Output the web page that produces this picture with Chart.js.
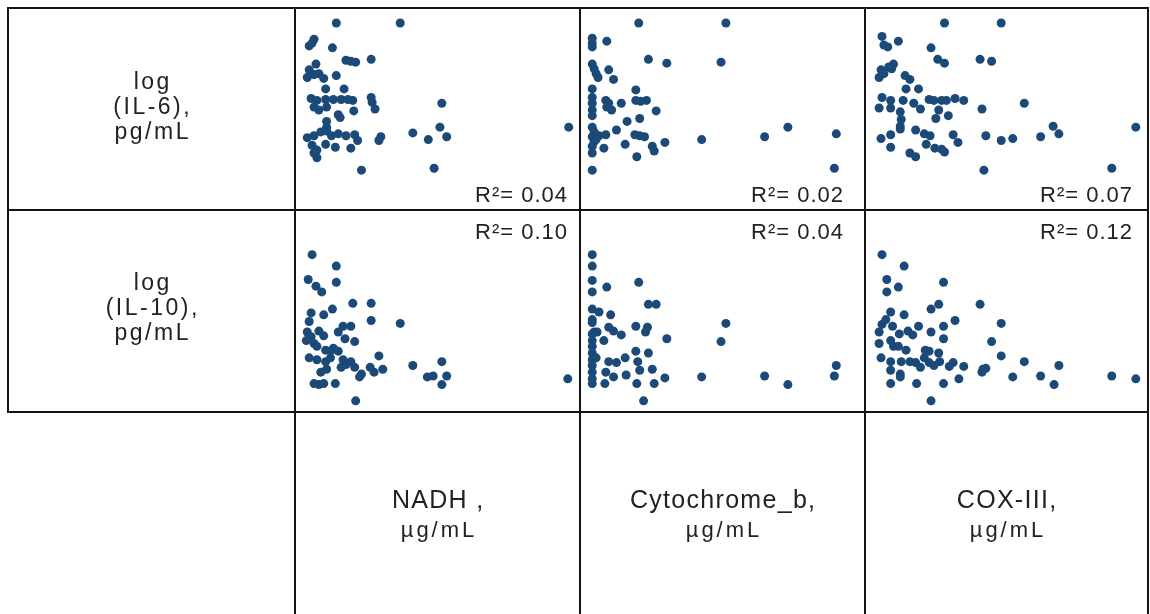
<!DOCTYPE html>
<html>
<head>
<meta charset="utf-8">
<script src="https://cdn.jsdelivr.net/npm/chart.js@4"></script>
<style>
body{margin:0;background:#fff;}
#wrap{position:relative;width:1150px;height:614px;overflow:hidden;font-family:"Liberation Sans",Arial,sans-serif;color:#222;}
.panel{position:absolute;}
.ln{position:absolute;background:#141414;z-index:5;}
.txt{position:absolute;white-space:nowrap;line-height:1;z-index:6;}
</style>
</head>
<body>
<div id="wrap"></div>
<script>
// valores (unidades relativas, sin ejes)
const nadhIL6=[[38,191],[104,191],[15,174],[10,167],[13,170],[34,165],[48,152],[53,151],[58,150],[74,153],[17,148],[10,142],[8,134],[20,138],[25,133],[15,137],[38,136],[27,122],[46,122],[12,112],[18,110],[27,111],[35,111],[43,111],[50,111],[55,110],[74,113],[75,108],[78,101],[15,103],[20,100],[28,103],[56,99],[40,95],[42,92],[28,88],[147,107],[145,82],[278,82],[117,76],[84,72],[82,68],[133,69],[152,72],[8,71],[15,73],[22,77],[28,78],[33,73],[40,75],[48,73],[57,74],[60,68],[28,82],[13,63],[18,58],[27,64],[37,61],[15,55],[18,50],[53,60],[64,37],[139,39]]
const cytbIL6=[[56,191],[146,191],[8,175],[8,170],[8,166],[23,172],[66,153],[85,149],[141,150],[8,148],[10,143],[12,138],[14,134],[25,142],[30,132],[8,122],[53,121],[8,113],[8,107],[8,100],[8,94],[22,110],[23,103],[28,100],[25,107],[38,107],[53,110],[64,110],[58,109],[74,99],[44,88],[57,91],[33,79],[8,82],[10,77],[8,72],[10,67],[8,62],[8,55],[15,73],[22,74],[20,60],[42,64],[52,74],[57,73],[62,72],[70,62],[72,57],[83,66],[54,51],[121,69],[186,72],[210,82],[260,75],[258,39],[8,37],[12,69]]
const coxIL6=[[78,191],[137,191],[13,177],[30,172],[15,168],[19,166],[64,165],[71,153],[78,149],[115,153],[127,151],[25,148],[20,145],[12,142],[15,138],[10,134],[23,143],[37,136],[42,132],[38,122],[51,122],[13,113],[22,110],[35,110],[62,111],[67,110],[75,110],[80,110],[89,112],[98,110],[10,102],[22,102],[32,98],[33,90],[32,83],[46,107],[53,101],[72,100],[69,91],[82,94],[117,101],[161,107],[191,83],[197,75],[277,82],[12,70],[22,74],[32,80],[48,79],[57,75],[63,73],[59,64],[87,74],[92,66],[22,61],[42,55],[48,51],[68,60],[75,59],[78,56],[121,73],[137,68],[149,70],[178,72],[119,37],[252,39]]
const nadhIL10=[[13,160],[38,148],[38,131],[9,134],[17,127],[23,121],[55,109],[74,109],[74,91],[104,88],[34,103],[25,97],[12,99],[10,90],[45,85],[53,85],[40,79],[8,79],[12,74],[7,70],[15,67],[20,80],[25,75],[18,64],[27,60],[32,59],[47,72],[57,69],[35,62],[40,59],[10,52],[18,50],[27,48],[32,52],[45,50],[48,45],[53,48],[57,42],[43,42],[22,37],[28,40],[15,25],[20,24],[25,25],[37,25],[82,54],[73,42],[77,37],[86,40],[62,32],[64,35],[58,7],[117,44],[147,48],[132,32],[138,33],[152,33],[147,24],[277,30]]
const cytbIL10=[[8,160],[8,148],[8,133],[8,121],[23,126],[56,131],[66,108],[74,108],[8,103],[15,100],[27,97],[8,92],[8,89],[25,84],[30,80],[38,76],[53,85],[65,84],[63,79],[85,72],[146,88],[141,69],[8,77],[10,79],[8,70],[8,64],[8,57],[8,50],[8,44],[8,37],[8,30],[8,25],[13,79],[20,70],[12,52],[25,48],[33,47],[42,52],[22,37],[30,32],[53,59],[66,57],[55,48],[57,39],[70,40],[43,34],[21,25],[54,25],[72,25],[83,31],[61,7],[121,32],[186,33],[210,24],[260,44],[258,33]]
const coxIL10=[[13,160],[36,148],[18,134],[18,121],[30,126],[77,131],[72,108],[64,103],[115,108],[22,100],[36,97],[89,91],[137,88],[17,92],[13,87],[10,79],[10,67],[24,85],[31,77],[40,80],[45,76],[51,85],[64,79],[77,85],[77,72],[127,69],[22,70],[25,64],[30,64],[38,60],[12,52],[22,48],[33,48],[42,48],[48,47],[53,42],[58,60],[62,59],[57,52],[62,47],[67,44],[72,57],[73,48],[22,39],[32,35],[32,32],[22,25],[49,25],[77,25],[83,43],[87,47],[98,43],[93,30],[118,40],[117,37],[121,41],[137,54],[161,48],[149,32],[178,33],[197,44],[192,24],[252,33],[277,30],[64,7]]

const r2IL6=['0.04','0.02','0.07']
const r2IL10=['0.10','0.04','0.12']
const filas=[['log','(IL-6),','pg/mL'],['log','(IL-10),','pg/mL']]
const columnas=[['NADH ,','µg/mL'],['Cytochrome_b,','µg/mL'],['COX-III,','µg/mL']]

const color='#1b4a78'
const colX=[8,295,580,865,1148]
const rowY=[8,210,412,614]
const wrap=document.getElementById('wrap')

function linea(x,y,w,h){
    const d=document.createElement('div')
    d.className='ln'
    d.style.left=x+'px';d.style.top=y+'px';d.style.width=w+'px';d.style.height=h+'px'
    wrap.appendChild(d)
}

// texto centrado (o a la derecha) a partir de su linea base
function texto(t,x0,x1,base,size,ls,align){
    const d=document.createElement('div')
    d.className='txt'
    d.textContent=t
    d.style.fontSize=size+'px'
    d.style.letterSpacing=ls+'px'
    d.style.top=(base-0.8465*size)+'px'
    d.style.left=x0+'px'
    d.style.width=(x1-x0+ls)+'px'
    d.style.textAlign=align||'center'
    wrap.appendChild(d)
}

function grafico(puntos,c,r){
    const w=colX[c+1]-colX[c], h=rowY[r+1]-rowY[r]
    const cv=document.createElement('canvas')
    cv.className='panel'
    cv.width=w;cv.height=h
    cv.style.left=colX[c]+'px';cv.style.top=rowY[r]+'px'
    wrap.appendChild(cv)
    new Chart(cv,{
        type:'scatter',
        data:{datasets:[{
            data:puntos.map(p=>({x:p[0],y:p[1]})),
            backgroundColor:color,
            borderWidth:0,
            pointRadius:4.5,
            clip:false
        }]},
        options:{
            responsive:false,
            animation:false,
            devicePixelRatio:1,
            events:[],
            layout:{padding:0},
            scales:{
                x:{display:false,min:0,max:285},
                y:{display:false,min:0,max:202}
            },
            plugins:{legend:{display:false},tooltip:{enabled:false}}
        }
    })
}

const series=[[nadhIL6,cytbIL6,coxIL6],[nadhIL10,cytbIL10,coxIL10]]
series.forEach((fila,r)=>fila.forEach((p,c)=>grafico(p,c+1,r)))

// lineas de la tabla
for(let i=0;i<3;i++) linea(7,rowY[i]-1,1142,2)
linea(7,7,2,406)
for(let i=1;i<5;i++) linea(colX[i]-1,7,2,607)

// etiquetas de filas
const baseFila=[89,290]
filas.forEach((f,r)=>f.forEach((t,k)=>texto(t,8,295,baseFila[r]+k*25,23,2.5)))

// etiquetas de columnas
columnas.forEach((f,c)=>{
    texto(f[0],colX[c+1],colX[c+2],508,25,1.3)
    texto(f[1],colX[c+1],colX[c+2],538,22,3)
})

// R2
const derecha=[567,843,1132]
r2IL6.forEach((v,c)=>texto('R²= '+v,colX[c+1],derecha[c],203,22,1,'right'))
r2IL10.forEach((v,c)=>texto('R²= '+v,colX[c+1],derecha[c],240,22,1,'right'))
</script>
</body>
</html>
